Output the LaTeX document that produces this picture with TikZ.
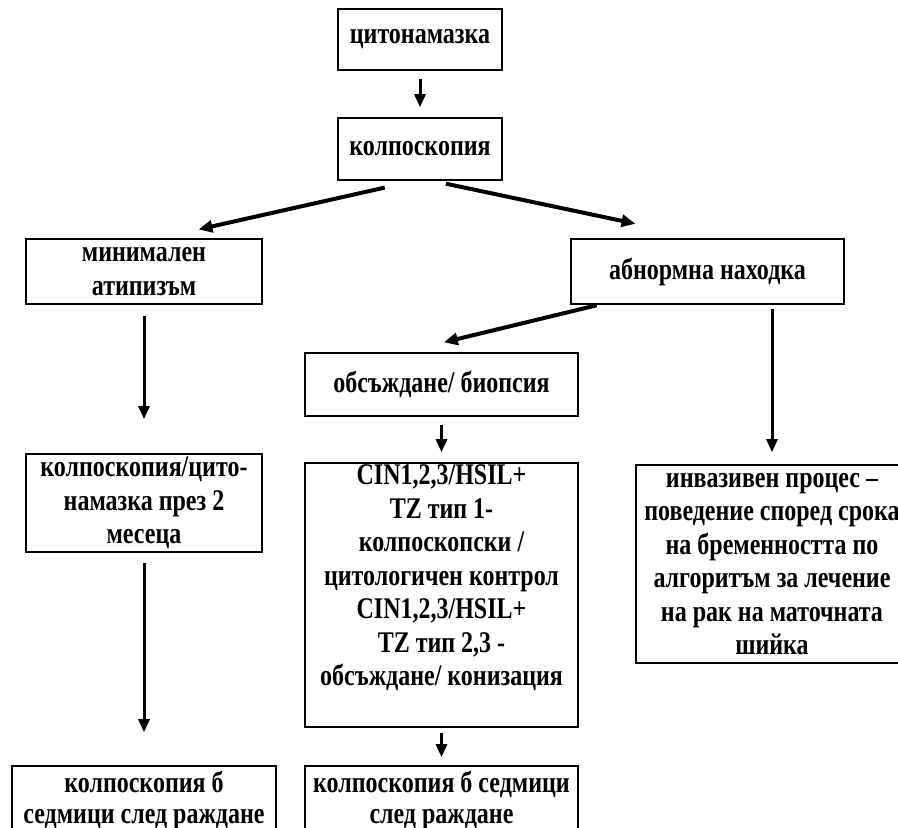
\documentclass[tikz,border=0pt]{standalone}
\usepackage{fontspec}
\setmainfont[FakeStretch=0.8]{Liberation Serif}
\usetikzlibrary{arrows.meta}
\begin{document}
\begin{tikzpicture}[
   x=1pt,y=-1pt,
   font=\fontsize{30}{33.5}\selectfont\bfseries,
   box/.style={draw,line width=1.6pt,fill=white,inner sep=0pt,align=center},
   tight/.style={font=\fontsize{30}{31}\selectfont\bfseries},
   to/.style={-{Triangle[length=13pt,width=11pt]},line width=3pt},
   slant/.style={-{Triangle[length=14pt,width=12pt]},line width=4pt}]
\clip (0,0) rectangle (898,828);
\node[box,minimum width=164pt,minimum height=61pt] (cyto) at (420,39.5) {цитонамазка};
\node[box,minimum width=164pt,minimum height=62pt] (kolpo) at (420,149) {колпоскопия};
\node[box,minimum width=236pt,minimum height=65pt] (minimal) at (144,271.5) {минимален\\атипизъм};
\node[box,minimum width=273pt,minimum height=65pt] (abnormal) at (707.5,271.5) {абнормна находка};
\node[box,minimum width=273pt,minimum height=63pt] (obs) at (441.5,384.5) {обсъждане/ биопсия};
\node[box,minimum width=236pt,minimum height=98pt] (kolpocyto) at (144,503) {колпоскопия/цито-\\намазка през 2\\месеца};
\node[box,minimum width=273pt,minimum height=264pt] (cin) at (441.5,595) {CIN1,2,3/HSIL+\\TZ тип 1-\\колпоскопски /\\цитологичен контрол\\CIN1,2,3/HSIL+\\TZ тип 2,3 -\\обсъждане/ конизация\\[6pt]~};
\node[box,minimum width=272pt,minimum height=198pt] (invasive) at (772,564) {инвазивен процес –\\поведение според срока\\на бременността по\\алгоритъм за лечение\\на рак на маточната\\шийка};
\node[box,tight,minimum width=264pt,minimum height=68pt] (after1) at (144,800) {колпоскопия б\\седмици след раждане};
\node[box,tight,minimum width=273pt,minimum height=68pt] (after2) at (441.5,800) {колпоскопия б седмици\\след раждане};
\draw[to,shorten <=8pt,shorten >=10pt] (cyto.south) -- (kolpo.north);
\draw[slant,shorten <=31pt,shorten >=40pt] (kolpo.261) -- (minimal.65);
\draw[slant,shorten <=14pt,shorten >=70pt] (kolpo.291) -- (abnormal.96);
\draw[slant,shorten <=2pt,shorten >=42pt] (abnormal.197.4) -- (obs.140.7);
\draw[to,shorten <=4pt,shorten >=12pt] (abnormal.south -| invasive.north) -- (invasive.north);
\draw[to,shorten <=8pt,shorten >=10pt] (obs.south) -- (cin.north);
\draw[to,shorten <=11pt,shorten >=34pt] (minimal.south) -- (kolpocyto.north);
\draw[to,shorten <=10pt,shorten >=33pt] (kolpocyto.south) -- (after1.north);
\draw[to,shorten <=5pt,shorten >=8pt] (cin.south) -- (after2.north);
\end{tikzpicture}
\end{document}
